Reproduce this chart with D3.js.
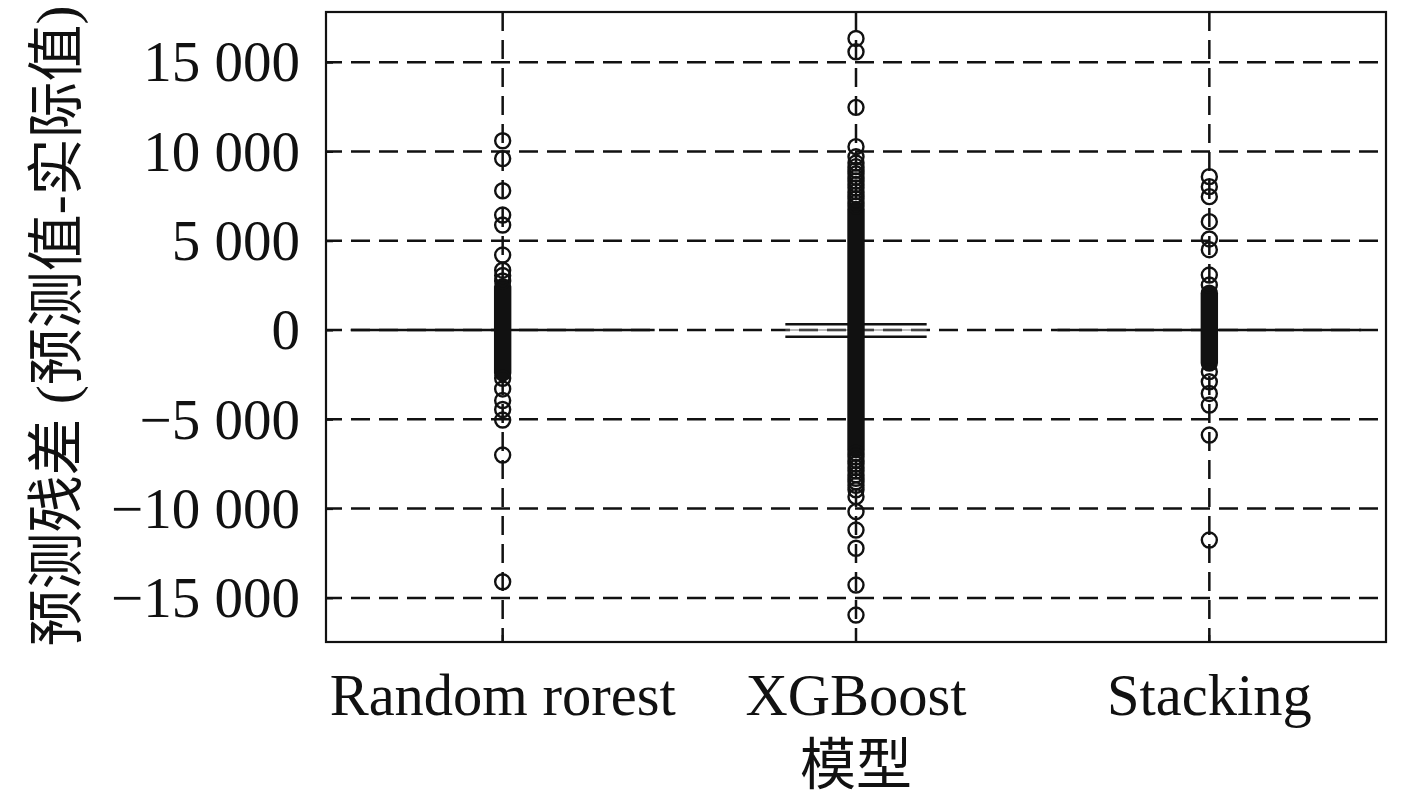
<!DOCTYPE html>
<html><head><meta charset="utf-8">
<script src="https://cdn.jsdelivr.net/npm/d3@7"></script>
<style>body{margin:0;background:#fff}</style>
</head><body>
<svg id="chart" width="1417" height="800"></svg>
<script>
// ---------- data ----------
const categories = ["Random rorest", "XGBoost", "Stacking"];
const q1Values = [0, -375, 0];
const medianValues = [0, 0, 0];
const q3Values = [0, 320, 0];
// densely overlapping outliers (rendered as a solid run of circles)
const denseLow = [-2400, -6700, -1850];
const denseHigh = [2430, 6750, 2060];
const outliersRF = [10600, 9600, 7800, 6440, 5880, 4200, 3350, 3050, 2750,
  -2700, -3300, -3950, -4450, -5040, -7000, -14100];
const outliersXGB = [16330, 15580, 12470, 10270, 9700, 9350, 9150, 8950, 8750, 8550, 8350,
  8150, 7950, 7750, 7550, 7350, 7150, 6950,
  -6900, -7100, -7300, -7500, -7700, -7900, -8100, -8300, -8500, -8700, -8950,
  -9330, -10170, -11200, -12220, -14280, -15960];
const outliersStacking = [8590, 8030, 7470, 6070, 5100, 4500, 3080, 2520,
  -2330, -2900, -3550, -4200, -5880, -11760];
const yTicks = [-15000, -10000, -5000, 0, 5000, 10000, 15000];
const yTitle = "预测残差 (预测值-实际值)";
const xTitle = "模型";

// ---------- style ----------
const boxWidthFrac = [0.86, 0.40, 0.86];
const FONT = "'Liberation Serif','Times New Roman','Noto Sans CJK SC',serif";
const FS = 57;
const INK = "#111";
const R = 7.5;
const SW = 2.4;

const svg = d3.select("#chart");
const L = 326, Rt = 1386, T = 12, B = 642;
const x = d3.scaleBand().domain(categories).range([L, Rt]).padding(0);
const y = d3.scaleLinear().domain([-17470, 17810]).range([B, T]);
const cx = c => x(c) + x.bandwidth() / 2;

const loc = d3.formatLocale({decimal: ".", thousands: " ", grouping: [3], currency: ["", ""], minus: "\u2212"});
const fmt = loc.format(",");

// grid
const grid = svg.append("g").attr("stroke", INK).attr("stroke-width", 2.5)
  .attr("stroke-dasharray", "19,9").attr("fill", "none");
grid.selectAll("line.h").data(yTicks).join("line").attr("class", "h")
  .attr("x1", L).attr("x2", Rt).attr("y1", d => y(d)).attr("y2", d => y(d))
  .attr("stroke-dashoffset", 3);
grid.selectAll("line.v").data(categories).join("line").attr("class", "v")
  .attr("x1", cx).attr("x2", cx).attr("y1", T).attr("y2", B);

// axes
const yAxis = svg.append("g").attr("transform", `translate(${L},0)`)
  .call(d3.axisLeft(y).tickValues(yTicks).tickSize(-7).tickPadding(26).tickFormat(fmt));
const xAxis = svg.append("g").attr("transform", `translate(0,${B})`)
  .call(d3.axisBottom(x).tickSize(-7).tickPadding(31));
[yAxis, xAxis].forEach(a => {
  a.select(".domain").remove();
  a.selectAll(".tick line").attr("stroke", INK).attr("stroke-width", 2);
  a.selectAll(".tick text").attr("fill", INK).attr("font-family", FONT).attr("font-size", FS);
});
yAxis.selectAll(".tick text").attr("dy", "0.33em");
xAxis.selectAll(".tick text").attr("font-size", 58.5);

// boxes
const boxes = svg.append("g");
categories.forEach((c, i) => {
  const w = x.bandwidth() * boxWidthFrac[i];
  const x0 = cx(c) - w / 2, x1 = cx(c) + w / 2;
  boxes.append("line").attr("x1", x0).attr("x2", x1)
    .attr("y1", y(medianValues[i])).attr("y2", y(medianValues[i]))
    .attr("stroke", "#777").attr("stroke-opacity", 0.5).attr("stroke-width", 2);
  const edges = q3Values[i] === q1Values[i] ? [q3Values[i]] : [q3Values[i], q1Values[i]];
  edges.forEach(v => {
    boxes.append("line").attr("x1", x0).attr("x2", x1)
      .attr("y1", y(v)).attr("y2", y(v))
      .attr("stroke", INK).attr("stroke-width", 2.6);
  });
});

// dense outlier runs
const OUT = R + SW / 2;
svg.append("g").selectAll("rect").data(categories).join("rect")
  .attr("x", d => cx(d) - OUT).attr("width", 2 * OUT)
  .attr("y", (d, i) => y(denseHigh[i]) - OUT)
  .attr("height", (d, i) => y(denseLow[i]) - y(denseHigh[i]) + 2 * OUT)
  .attr("rx", OUT).attr("fill", INK);

// outliers
const outlierSets = [outliersRF, outliersXGB, outliersStacking];
outlierSets.forEach((set, i) => {
  svg.append("g").selectAll("circle").data(set).join("circle")
    .attr("cx", cx(categories[i])).attr("cy", d => y(d)).attr("r", R)
    .attr("fill", "none").attr("stroke", INK).attr("stroke-width", SW);
});

// frame
svg.append("rect").attr("x", L).attr("y", T).attr("width", Rt - L).attr("height", B - T)
  .attr("fill", "none").attr("stroke", INK).attr("stroke-width", 2.2);

// titles
svg.append("text").attr("transform", "translate(56,326) rotate(-90)")
  .attr("text-anchor", "middle").attr("dominant-baseline", "central")
  .attr("font-family", FONT).attr("font-size", FS).attr("fill", INK).text(yTitle);
svg.append("text").attr("x", cx(categories[1])).attr("y", 784)
  .attr("text-anchor", "middle")
  .attr("font-family", FONT).attr("font-size", 56).attr("fill", INK).text(xTitle);
</script>
</body></html>
